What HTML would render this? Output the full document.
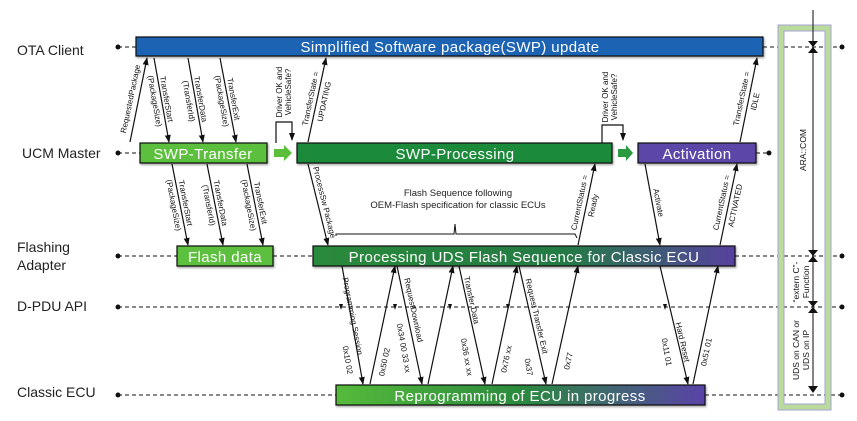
<!DOCTYPE html>
<html><head><meta charset="utf-8"><style>
html,body{margin:0;padding:0;background:#fff;}
svg{display:block;font-family:"Liberation Sans",sans-serif;}
.lb{font-size:14px;fill:#222;}
.bt{font-size:15px;fill:#fff;text-anchor:middle;letter-spacing:0.4px;}
.s{font-size:8px;fill:#111;text-anchor:middle;}
.ln{stroke:#111;stroke-width:1.2;fill:none;}
.ds{stroke:#111;stroke-width:1;stroke-dasharray:4,3;fill:none;}
</style></head><body>
<svg width="857" height="421" viewBox="0 0 857 421" xmlns="http://www.w3.org/2000/svg">
<defs>
<marker id="a" markerWidth="8" markerHeight="8" refX="7" refY="4" orient="auto" markerUnits="userSpaceOnUse"><path d="M0,1 L8,4 L0,7 z" fill="#111"/></marker>
<linearGradient id="g1" x1="0" x2="1"><stop offset="0" stop-color="#2a8a3a"/><stop offset="0.6" stop-color="#247a45"/><stop offset="1" stop-color="#5840a0"/></linearGradient>
<linearGradient id="g2" x1="0" x2="1"><stop offset="0" stop-color="#55bb3a"/><stop offset="0.5" stop-color="#2a8a3e"/><stop offset="1" stop-color="#5a42a8"/></linearGradient>
<filter id="sh"><feDropShadow dx="1" dy="1.5" stdDeviation="1" flood-opacity="0.35"/></filter>
</defs>

<text class="lb" x="17" y="55">OTA Client</text>
<text class="lb" x="22" y="158">UCM Master</text>
<text class="lb" x="17" y="252">Flashing</text>
<text class="lb" x="17" y="270">Adapter</text>
<text class="lb" x="17" y="311">D-PDU API</text>
<text class="lb" x="17" y="397">Classic ECU</text>

<g class="ds">
<line x1="118" y1="47" x2="136" y2="47"/><line x1="763" y1="47" x2="842" y2="47"/>
<line x1="118" y1="153" x2="140" y2="153"/><line x1="756" y1="153" x2="769" y2="153"/>
<line x1="118" y1="256" x2="177" y2="256"/><line x1="273" y1="256" x2="313" y2="256"/><line x1="735" y1="256" x2="842" y2="256"/>
<line x1="118" y1="307" x2="842" y2="307"/>
<line x1="118" y1="395" x2="336" y2="395"/><line x1="705" y1="395" x2="842" y2="395"/>
</g>
<g fill="#111">
<circle cx="118" cy="47" r="2.5"/><circle cx="118" cy="153" r="2.5"/><circle cx="118" cy="256" r="2.5"/><circle cx="118" cy="307" r="2.5"/><circle cx="118" cy="395" r="2.5"/>
<circle cx="842" cy="47" r="2.5"/><circle cx="769" cy="153" r="2.5"/><circle cx="842" cy="256" r="2.5"/><circle cx="842" cy="307" r="2.5"/><circle cx="842" cy="395" r="2.5"/>
</g>

<rect x="781" y="28" width="47" height="379" fill="none" stroke="#a9a0d6" stroke-width="7"/>
<rect x="781" y="28" width="47" height="379" fill="none" stroke="#b9dc9c" stroke-width="5"/>
<line x1="813" y1="10" x2="813" y2="392" stroke="#333" stroke-width="1.2"/>
<g fill="#111">
<path d="M808,41 L818,41 L813,47 z"/><path d="M808,53 L818,53 L813,47 z"/>
<path d="M808,250 L818,250 L813,256 z"/><path d="M808,262 L818,262 L813,256 z"/>
<path d="M808,301 L818,301 L813,307 z"/><path d="M808,313 L818,313 L813,307 z"/>
<path d="M808,386 L818,386 L813,393 z"/>
</g>
<g class="s" style="font-size:8.5px">
<text transform="translate(806,150) rotate(-90)">ARA::COM</text>
<text transform="translate(799,282) rotate(-90)">“extern C”-</text>
<text transform="translate(809,282) rotate(-90)">Function</text>
<text transform="translate(799,350) rotate(-90)">UDS on CAN or</text>
<text transform="translate(809,350) rotate(-90)">UDS on IP</text>
</g>

<g filter="url(#sh)" stroke="#111" stroke-width="1.2">
<rect x="136" y="37" width="627" height="19" fill="#1f63b3"/>
<rect x="140" y="143" width="127" height="20" fill="#5cbf3c"/>
<rect x="297" y="143" width="315" height="20" fill="#1e8a3a"/>
<rect x="638" y="143" width="118" height="20" fill="#5b47a8"/>
<rect x="177" y="246" width="96" height="20" fill="#5cbf3c"/>
<rect x="313" y="246" width="422" height="20" fill="url(#g1)"/>
<rect x="336" y="385" width="369" height="20" fill="url(#g2)"/>
</g>
<text class="bt" x="450" y="52">Simplified Software package(SWP) update</text>
<text class="bt" x="203" y="159">SWP-Transfer</text>
<text class="bt" x="455" y="159">SWP-Processing</text>
<text class="bt" x="697" y="159">Activation</text>
<text class="bt" x="225" y="262">Flash data</text>
<text class="bt" x="524" y="262">Processing UDS Flash Sequence for Classic ECU</text>
<text class="bt" x="520" y="401">Reprogramming of ECU in progress</text>

<path d="M274,149 L284,149 L284,145 L292,153 L284,161 L284,157 L274,157 z" fill="#5cbf3c"/>
<path d="M618,149 L626,149 L626,145 L633,153 L626,161 L626,157 L618,157 z" fill="#2a9a40"/>

<path class="ln" d="M276,143 L276,122 L292,122 L292,140" marker-end="url(#a)"/>
<path class="ln" d="M602,143 L602,125 L623,125 L623,140" marker-end="url(#a)"/>
<g class="s">
<text transform="translate(282,92) rotate(-90)">Driver OK and</text>
<text transform="translate(291,92) rotate(-90)">VehicleSafe?</text>
<text transform="translate(608,97) rotate(-90)">Driver OK and</text>
<text transform="translate(617,97) rotate(-90)">VehicleSafe?</text>
</g>

<path class="ln" d="M336,236 L336,234 L454,234 L455,224 L456,234 L575,234 L577,238" style="stroke-width:1"/>
<text x="458" y="196" style="font-size:9.5px;text-anchor:middle;fill:#222">Flash Sequence following</text>
<text x="458" y="208" style="font-size:9.5px;text-anchor:middle;fill:#222">OEM-Flash specification for classic ECUs</text>

<g class="ln" marker-end="url(#a)">
<line x1="130" y1="142" x2="147" y2="58"/>
<line x1="154" y1="58" x2="169" y2="142"/>
<line x1="188" y1="58" x2="203" y2="142"/>
<line x1="220" y1="58" x2="236" y2="142"/>
<line x1="172" y1="164" x2="188" y2="245"/>
<line x1="207" y1="164" x2="223" y2="245"/>
<line x1="247" y1="164" x2="263" y2="245"/>
<line x1="308" y1="142" x2="326" y2="58"/>
<line x1="308" y1="164" x2="328" y2="245"/>
<line x1="578" y1="245" x2="595" y2="164"/>
<line x1="645" y1="164" x2="660" y2="245"/>
<line x1="720" y1="245" x2="737" y2="164"/>
<line x1="740" y1="142" x2="757" y2="58"/>
<line x1="342" y1="266" x2="363" y2="384"/>
<line x1="370" y1="384" x2="395" y2="266"/>
<line x1="397" y1="266" x2="422" y2="384"/>
<line x1="428" y1="384" x2="453" y2="266"/>
<line x1="459" y1="266" x2="485" y2="384"/>
<line x1="492" y1="384" x2="517" y2="266"/>
<line x1="519" y1="266" x2="546" y2="384"/>
<line x1="552" y1="384" x2="578" y2="266"/>
<line x1="660" y1="266" x2="688" y2="384"/>
<line x1="693" y1="384" x2="718" y2="266"/>
</g>
<g fill="#111">
<path d="M339,304 l4,0 l-2,6z"/><path d="M393,304 l4,0 l-2,6z"/><path d="M448,304 l4,0 l-2,6z"/><path d="M506,304 l4,0 l-2,6z"/><path d="M663,304 l4,0 l-2,6z"/>
</g>

<g class="s">
<text transform="translate(136,100) rotate(-78)" y="-3">RequestedPackage</text>
<text transform="translate(161,100) rotate(80)" y="-3">TransferStart</text>
<text transform="translate(161,100) rotate(80)" y="9">(PackageSize)</text>
<text transform="translate(195,100) rotate(80)" y="-3">TransferData</text>
<text transform="translate(195,100) rotate(80)" y="9">(TransferId)</text>
<text transform="translate(228,100) rotate(80)" y="-3">TransferExit</text>
<text transform="translate(228,100) rotate(80)" y="9">(PackageSize)</text>
<text transform="translate(180,204) rotate(79)" y="-3">TransferStart</text>
<text transform="translate(180,204) rotate(79)" y="9">(PackageSize)</text>
<text transform="translate(215,204) rotate(79)" y="-3">TransferData</text>
<text transform="translate(215,204) rotate(79)" y="9">(TransferId)</text>
<text transform="translate(255,204) rotate(79)" y="-3">TransferExit</text>
<text transform="translate(255,204) rotate(79)" y="9">(PackageSize)</text>
<text transform="translate(317,100) rotate(-78)" y="-4">TransferState =</text>
<text transform="translate(317,100) rotate(-78)" y="10">UPDATING</text>
<text transform="translate(318,204) rotate(76)" y="-4">ProcessSw Package</text>
<text transform="translate(586,204) rotate(-78)" y="-4">CurrentStatus =</text>
<text transform="translate(586,204) rotate(-78)" y="10">Ready</text>
<text transform="translate(652,204) rotate(79)" y="-4">Activate</text>
<text transform="translate(728,204) rotate(-78)" y="-4">CurrentStatus =</text>
<text transform="translate(728,204) rotate(-78)" y="10">ACTIVATED</text>
<text transform="translate(748,100) rotate(-78)" y="-4">TransferState =</text>
<text transform="translate(748,100) rotate(-78)" y="10">IDLE</text>

<text transform="translate(353,316) rotate(79)" y="3">Programming Session</text>
<text transform="translate(348,360) rotate(80)" y="3">0x10 02</text>
<text transform="translate(384,362) rotate(-78)" y="3">0x50 02</text>
<text transform="translate(414,310) rotate(78)" y="3">RequestDownload</text>
<text transform="translate(404,348) rotate(80)" y="3">0x34 00 33 xx</text>
<text transform="translate(472,300) rotate(78)" y="3">Transfer Data</text>
<text transform="translate(467,357) rotate(80)" y="3">0x36 xx xx</text>
<text transform="translate(506,359) rotate(-78)" y="3">0x76 xx</text>
<text transform="translate(537,316) rotate(77)" y="3">Request Transfer Exit</text>
<text transform="translate(529,367) rotate(80)" y="3">0x37</text>
<text transform="translate(568,361) rotate(-78)" y="3">0x77</text>
<text transform="translate(683,342) rotate(77)" y="3">Hard Reset</text>
<text transform="translate(667,352) rotate(80)" y="3">0x11 01</text>
<text transform="translate(706,352) rotate(-78)" y="3">0x51 01</text>
</g>
</svg>
</body></html>
